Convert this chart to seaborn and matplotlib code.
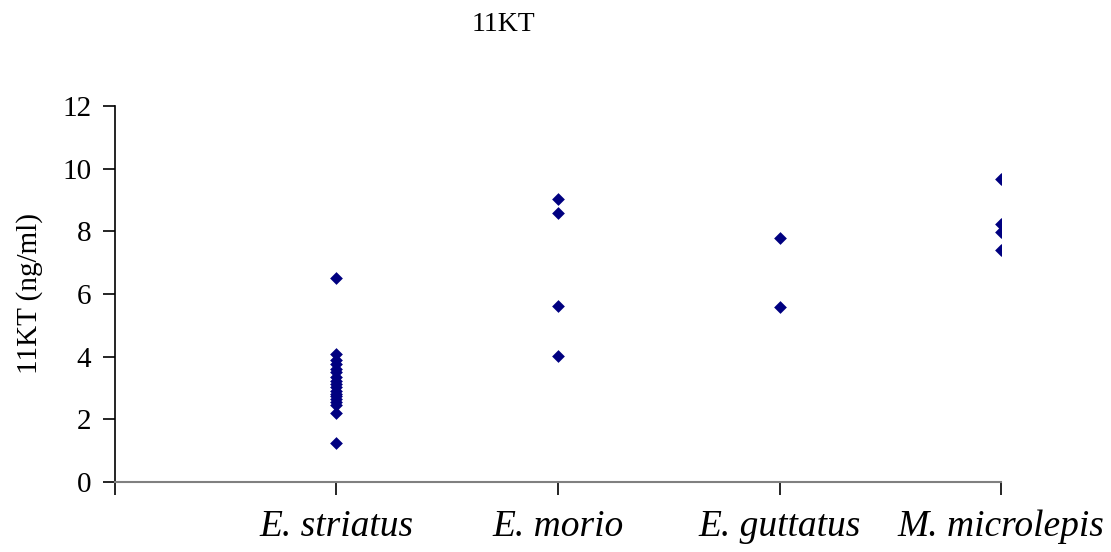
import pandas as pd
import matplotlib.pyplot as plt
import seaborn as sns

# values
species = ["E. striatus", "E. morio", "E. guttatus", "M. microlepis"]
striatus = [6.52, 4.09, 3.88, 3.76, 3.62, 3.50, 3.35, 3.22, 3.12, 3.02,
            2.92, 2.82, 2.74, 2.64, 2.55, 2.45, 2.21, 1.23]
morio = [9.03, 8.58, 5.63, 4.03]
guttatus = [7.78, 5.58]
microlepis = [9.68, 8.23, 7.97, 7.39]

y_ticks = [0, 2, 4, 6, 8, 10, 12]

df = pd.DataFrame({
    "species": [species[0]] * len(striatus) + [species[1]] * len(morio)
               + [species[2]] * len(guttatus) + [species[3]] * len(microlepis),
    "value": striatus + morio + guttatus + microlepis,
})

sns.set_theme(style="white")
plt.rcParams["font.family"] = ["Liberation Serif", "DejaVu Serif"]
plt.rcParams["text.color"] = "black"
plt.rcParams["axes.labelcolor"] = "black"
plt.rcParams["xtick.color"] = "black"
plt.rcParams["ytick.color"] = "black"

fig = plt.figure(figsize=(11.11, 5.52), dpi=100)
ax = fig.add_axes([0.1035, 0.1268, 0.7975, 0.6812])

sns.stripplot(data=df, x="species", y="value", order=species, jitter=False,
              marker="D", s=6.5, color="#000080", linewidth=0, ax=ax)

ax.set_xlim(-1, 3)
ax.set_ylim(0, 12)
ax.set_yticks(y_ticks)
ax.set_xticks([-1, 0, 1, 2, 3])
ax.set_xticklabels([""] + species, fontsize=27, style="italic")
ax.tick_params(axis="x", direction="out", length=9, width=1.2, color="black",
               pad=11, bottom=True)
ax.tick_params(axis="y", direction="out", length=9, width=1.2, color="black",
               labelsize=21, pad=8, left=True)
ax.set_xlabel("")
ax.set_ylabel("11KT (ng/ml)", fontsize=21, labelpad=14)

for side in ["top", "right"]:
    ax.spines[side].set_visible(False)
ax.spines["left"].set_color("black")
ax.spines["left"].set_linewidth(1.2)
ax.spines["bottom"].set_color("#808080")
ax.spines["bottom"].set_linewidth(1.5)

fig.text(0.453, 0.955, "11KT", fontsize=20, ha="center", va="center")

fig.savefig("out.png", dpi=100, facecolor="white")
